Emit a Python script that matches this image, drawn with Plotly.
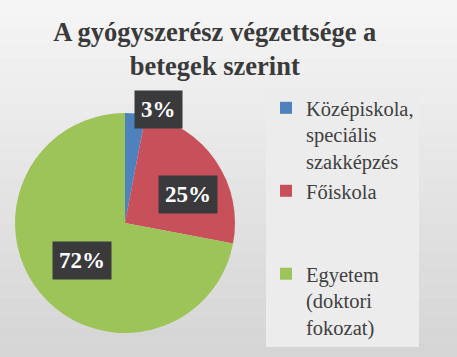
import math
import plotly.graph_objects as go

# ---- data ----
categories = ["Középiskola,<br>speciális<br>szakképzés", "Főiskola", "Egyetem<br>(doktori<br>fokozat)"]
values = [3, 25, 72]
colors = ["#4f81bd", "#c8505a", "#9cc458"]
title_text = "A gyógyszerész végzettsége a<br>betegek szerint"

# ---- layout constants ----
W, H = 457, 357
CX, CY, R = 125, 223, 110          # pie centre/radius in px
label_radius = [1.08, 0.63, 0.52]  # label distance as fraction of R
label_nudge = [11, 10, -1]         # degrees
legend_pad = ["", "<br> <br> ", ""]  # extra spacing in the legend

serif = "Liberation Serif"

fig = go.Figure()
fig.add_trace(go.Pie(
    labels=[c + p for c, p in zip(categories, legend_pad)],
    values=values,
    sort=False,
    direction="clockwise",
    rotation=0,
    marker=dict(colors=colors, line=dict(width=0)),
    textinfo="none",
    hoverinfo="label+percent",
    domain=dict(x=[(CX - R) / W, (CX + R) / W], y=[1 - (CY + R) / H, 1 - (CY - R) / H]),
))

# data labels derived from slice angles
total = sum(values)
cum = 0
annotations = []
for i, v in enumerate(values):
    mid = (cum + v / 2) / total * 360 + label_nudge[i]
    cum += v
    rr = R * label_radius[i]
    px = CX + rr * math.sin(math.radians(mid))
    py = CY - rr * math.cos(math.radians(mid))
    annotations.append(dict(
        x=px / W, y=1 - py / H, xref="paper", yref="paper",
        text=f"<b>{round(v / total * 100)}%</b>", showarrow=False,
        font=dict(family=serif, size=23, color="white"),
        bgcolor="#3a3a3c", borderpad=6, xanchor="center", yanchor="middle",
    ))

# soft vertical background gradient (decoration)
shapes = []
n_bands = 24
top_c, bot_c = 0xF5, 0xD5
for k in range(n_bands):
    c = round(top_c + (bot_c - top_c) * k / (n_bands - 1))
    shapes.append(dict(type="rect", xref="paper", yref="paper", layer="below",
                       x0=0, x1=1, y0=1 - (k + 1) / n_bands, y1=1 - k / n_bands,
                       fillcolor=f"rgb({c},{c},{c})", line=dict(width=0)))

fig.update_layout(
    width=W, height=H,
    margin=dict(l=0, r=0, t=0, b=0),
    font=dict(family=serif, color="#404040"),
    paper_bgcolor="#e4e4e4",
    plot_bgcolor="rgba(0,0,0,0)",
    title=dict(text="<b>" + title_text.replace("<br>", "</b><br><b>") + "</b>",
               x=0.47, xanchor="center", y=1 - 41 / H, yanchor="top",
               font=dict(family=serif, size=26.5, color="#3a3a3a")),
    legend=dict(x=266 / W, y=1 - 88 / H, xanchor="left", yanchor="top",
                valign="top", bgcolor="#ececec", traceorder="normal",
                font=dict(family=serif, size=20.5, color="#404040"),
                itemwidth=30),
    annotations=annotations,
    shapes=shapes,
    showlegend=True,
)

fig.write_html("out.html", config={"displayModeBar": False},
               post_script="document.body.style.margin='0';")
